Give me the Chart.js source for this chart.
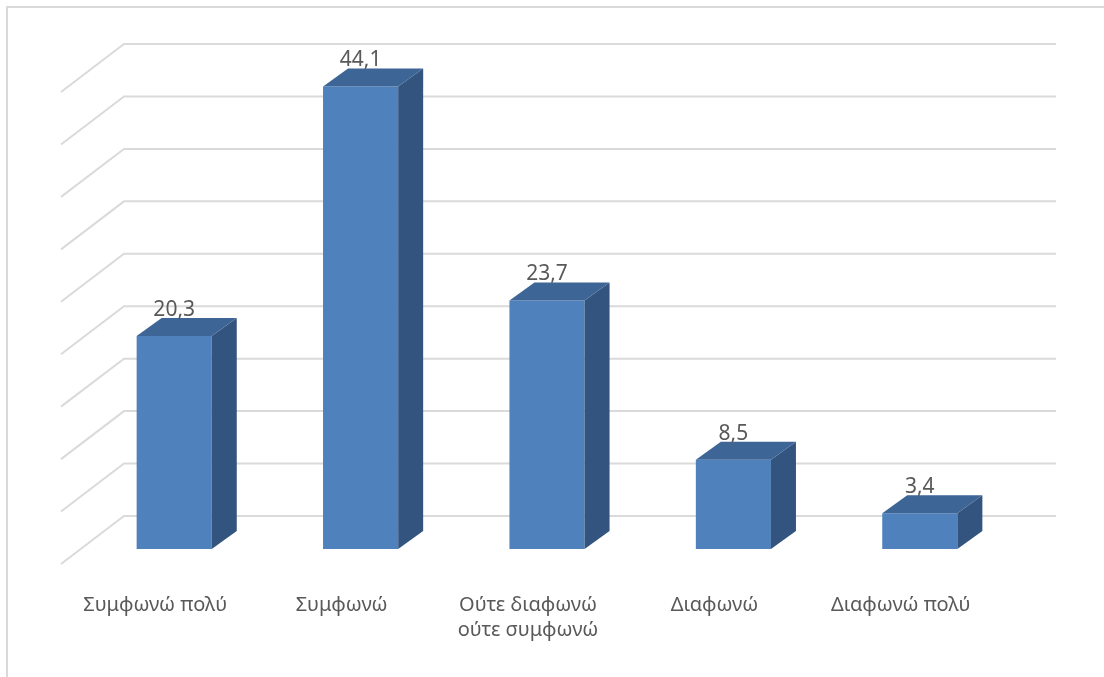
<!DOCTYPE html>
<html>
<head>
<meta charset="utf-8">
<script src="https://cdn.jsdelivr.net/npm/chart.js@4/dist/chart.umd.min.js"></script>
<style>
  html, body { margin: 0; padding: 0; background: #ffffff; }
  #wrap { position: relative; width: 1104px; height: 677px; }
  canvas { display: block; }
</style>
</head>
<body>
<div id="wrap"><canvas id="c" width="1104" height="677"></canvas></div>
<script>
// Survey answers (percent of respondents)
const categories = [
  'Συμφωνώ πολύ',
  'Συμφωνώ',
  ['Ούτε διαφωνώ', 'ούτε συμφωνώ'],
  'Διαφωνώ',
  'Διαφωνώ πολύ'
];
const values = [20.3, 44.1, 23.7, 8.5, 3.4];
const valueLabels = ['20,3', '44,1', '23,7', '8,5', '3,4'];
const axisMin = 0;
const axisMax = 45;
const axisStep = 5;

// depth of the box (back wall offset from the bar fronts) and bar depth
const WALL = { dx: 43, dy: -33, floorDx: -20, floorDy: 15 };
const BAR_DEPTH = { dx: 25, dy: -18 };
const FRONT = '#4f81bd', TOP = '#3d6596', SIDE = '#33547e';
const TEXT = '#595959', GRID = '#dadada';
const FONT = '"Noto Sans", "DejaVu Sans", sans-serif';

// gridlines on the back wall plus the slanted lines on the side wall
const wallGrid = {
  id: 'wallGrid',
  beforeDatasetsDraw(chart) {
    const { ctx, chartArea, scales: { y } } = chart;
    ctx.save();
    ctx.strokeStyle = GRID;
    ctx.lineWidth = 2;
    for (let v = axisMin; v <= axisMax + 1e-9; v += axisStep) {
      const py = y.getPixelForValue(v);
      const bx = chartArea.left + WALL.dx, by = py + WALL.dy;
      ctx.beginPath();
      ctx.moveTo(chartArea.left + WALL.floorDx, py + WALL.floorDy);
      ctx.lineTo(bx, by);
      ctx.lineTo(chartArea.right + WALL.dx, by);
      ctx.stroke();
    }
    ctx.restore();
  }
};

// extrudes each bar into a box and writes its value above it
const boxBars = {
  id: 'boxBars',
  afterDatasetsDraw(chart) {
    const { ctx } = chart;
    const meta = chart.getDatasetMeta(0);
    ctx.save();
    meta.data.forEach((bar, i) => {
      const { x, y, base, width } = bar.getProps(['x', 'y', 'base', 'width'], true);
      const l = x - width / 2, r = x + width / 2;
      const dx = BAR_DEPTH.dx, dy = BAR_DEPTH.dy;
      // side face
      ctx.fillStyle = SIDE;
      ctx.beginPath();
      ctx.moveTo(r, base); ctx.lineTo(r, y);
      ctx.lineTo(r + dx, y + dy); ctx.lineTo(r + dx, base + dy);
      ctx.closePath(); ctx.fill();
      // top face
      ctx.fillStyle = TOP;
      ctx.beginPath();
      ctx.moveTo(l, y); ctx.lineTo(r, y);
      ctx.lineTo(r + dx, y + dy); ctx.lineTo(l + dx, y + dy);
      ctx.closePath(); ctx.fill();
      // value
      ctx.fillStyle = TEXT;
      ctx.font = '21px ' + FONT;
      ctx.textAlign = 'center';
      ctx.textBaseline = 'middle';
      ctx.fillText(valueLabels[i], x, y - 26);
    });
    ctx.restore();
  }
};

// thin frame along the top and left edges
const frame = {
  id: 'frame',
  beforeDraw(chart) {
    const { ctx, width, height } = chart;
    ctx.save();
    ctx.strokeStyle = GRID;
    ctx.lineWidth = 2;
    ctx.beginPath();
    ctx.moveTo(7, height);
    ctx.lineTo(7, 7);
    ctx.lineTo(width, 7);
    ctx.stroke();
    ctx.restore();
  }
};

new Chart(document.getElementById('c'), {
  type: 'bar',
  data: {
    labels: categories,
    datasets: [{
      data: values,
      backgroundColor: FRONT,
      borderWidth: 0,
      categoryPercentage: 1,
      barPercentage: 0.403
    }]
  },
  options: {
    responsive: false,
    animation: false,
    layout: { padding: { left: 81, right: 91, top: 77, bottom: 0 } },
    plugins: { legend: { display: false }, tooltip: { enabled: false } },
    scales: {
      x: {
        grid: { display: false, drawTicks: false },
        border: { display: false },
        ticks: {
          color: TEXT,
          font: { family: FONT, size: 20, lineHeight: 1.25 },
          padding: 44,
          labelOffset: -19,
          maxRotation: 0,
          autoSkip: false
        },
        afterFit(scale) { scale.height = 128; }
      },
      y: {
        display: false,
        min: axisMin,
        max: axisMax,
        ticks: { stepSize: axisStep }
      }
    }
  },
  plugins: [frame, wallGrid, boxBars]
});
</script>
</body>
</html>
